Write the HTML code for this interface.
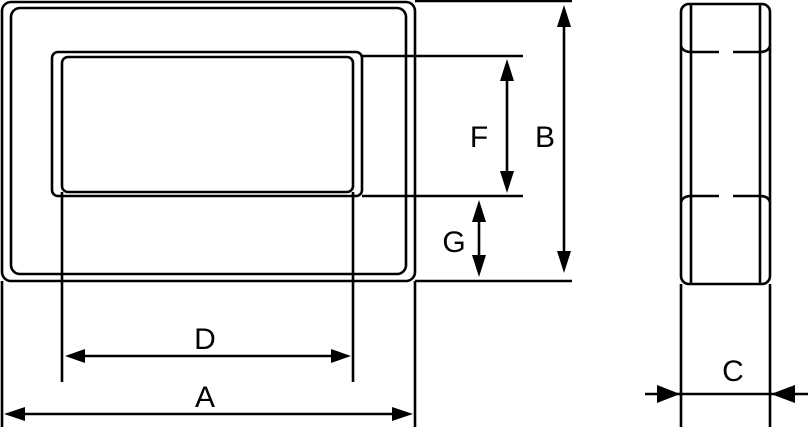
<!DOCTYPE html>
<html><head><meta charset="utf-8"><style>html,body{margin:0;padding:0;background:#fff}svg{display:block}</style></head>
<body>
<svg width="809" height="427" viewBox="0 0 809 427" xmlns="http://www.w3.org/2000/svg" font-family="Liberation Sans, sans-serif">
<g fill="none" stroke="#000" stroke-width="2.6">
<rect x="2" y="2" width="413" height="279" rx="9"/>
<rect x="11" y="8" width="395" height="266" rx="9"/>
<rect x="52" y="52" width="310" height="144" rx="6"/>
<rect x="62" y="57" width="291" height="135" rx="6"/>
<line x1="62" y1="192" x2="62" y2="382"/>
<line x1="353" y1="192" x2="353" y2="382"/>
<line x1="2" y1="281" x2="2" y2="427"/>
<line x1="415" y1="281" x2="415" y2="427"/>
<line x1="415" y1="1" x2="572" y2="1"/>
<line x1="362" y1="56" x2="523" y2="56"/>
<line x1="362" y1="196" x2="523" y2="196"/>
<line x1="415" y1="281" x2="572" y2="281"/>
<line x1="564" y1="15" x2="564" y2="262"/>
<line x1="507" y1="68" x2="507" y2="184"/>
<line x1="479" y1="210" x2="479" y2="266"/>
<line x1="75" y1="356" x2="341" y2="356"/>
<line x1="14" y1="414" x2="404" y2="414"/>
<rect x="681" y="4" width="89" height="280" rx="8"/>
<line x1="691" y1="4" x2="691" y2="284"/>
<line x1="760" y1="4" x2="760" y2="284"/>
<line x1="691" y1="52" x2="719" y2="52"/>
<line x1="733" y1="52" x2="760" y2="52"/>
<line x1="691" y1="196" x2="719" y2="196"/>
<line x1="733" y1="196" x2="760" y2="196"/>
<path d="M681 46 Q683 52 691 52 M770 46 Q768 52 760 52 M681 202 Q683 196 691 196 M770 202 Q768 196 760 196"/>
<line x1="681" y1="284" x2="681" y2="427"/>
<line x1="770" y1="284" x2="770" y2="427"/>
<line x1="645" y1="394" x2="808" y2="394"/>
</g>
<g fill="#000">
<polygon points="564,5 557,27 571,27"/>
<polygon points="564,273 557,251 571,251"/>
<polygon points="507,59 500,81 514,81"/>
<polygon points="507,193 500,171 514,171"/>
<polygon points="479,200 472,222 486,222"/>
<polygon points="479,277 472,255 486,255"/>
<polygon points="65,356 85,349 85,363"/>
<polygon points="351,356 331,349 331,363"/>
<polygon points="4,414 25,407 25,421"/>
<polygon points="413,414 392,407 392,421"/>
<polygon points="680,394 657,385 657,403"/>
<polygon points="771,394 795,385 795,403"/>
</g>
<g font-size="30" text-anchor="middle" fill="#000">
<text x="205" y="349">D</text>
<text x="205" y="407">A</text>
<text x="479" y="147">F</text>
<text x="545" y="147">B</text>
<text x="454" y="252">G</text>
<text x="733" y="381">C</text>
</g>
</svg>
</body></html>
